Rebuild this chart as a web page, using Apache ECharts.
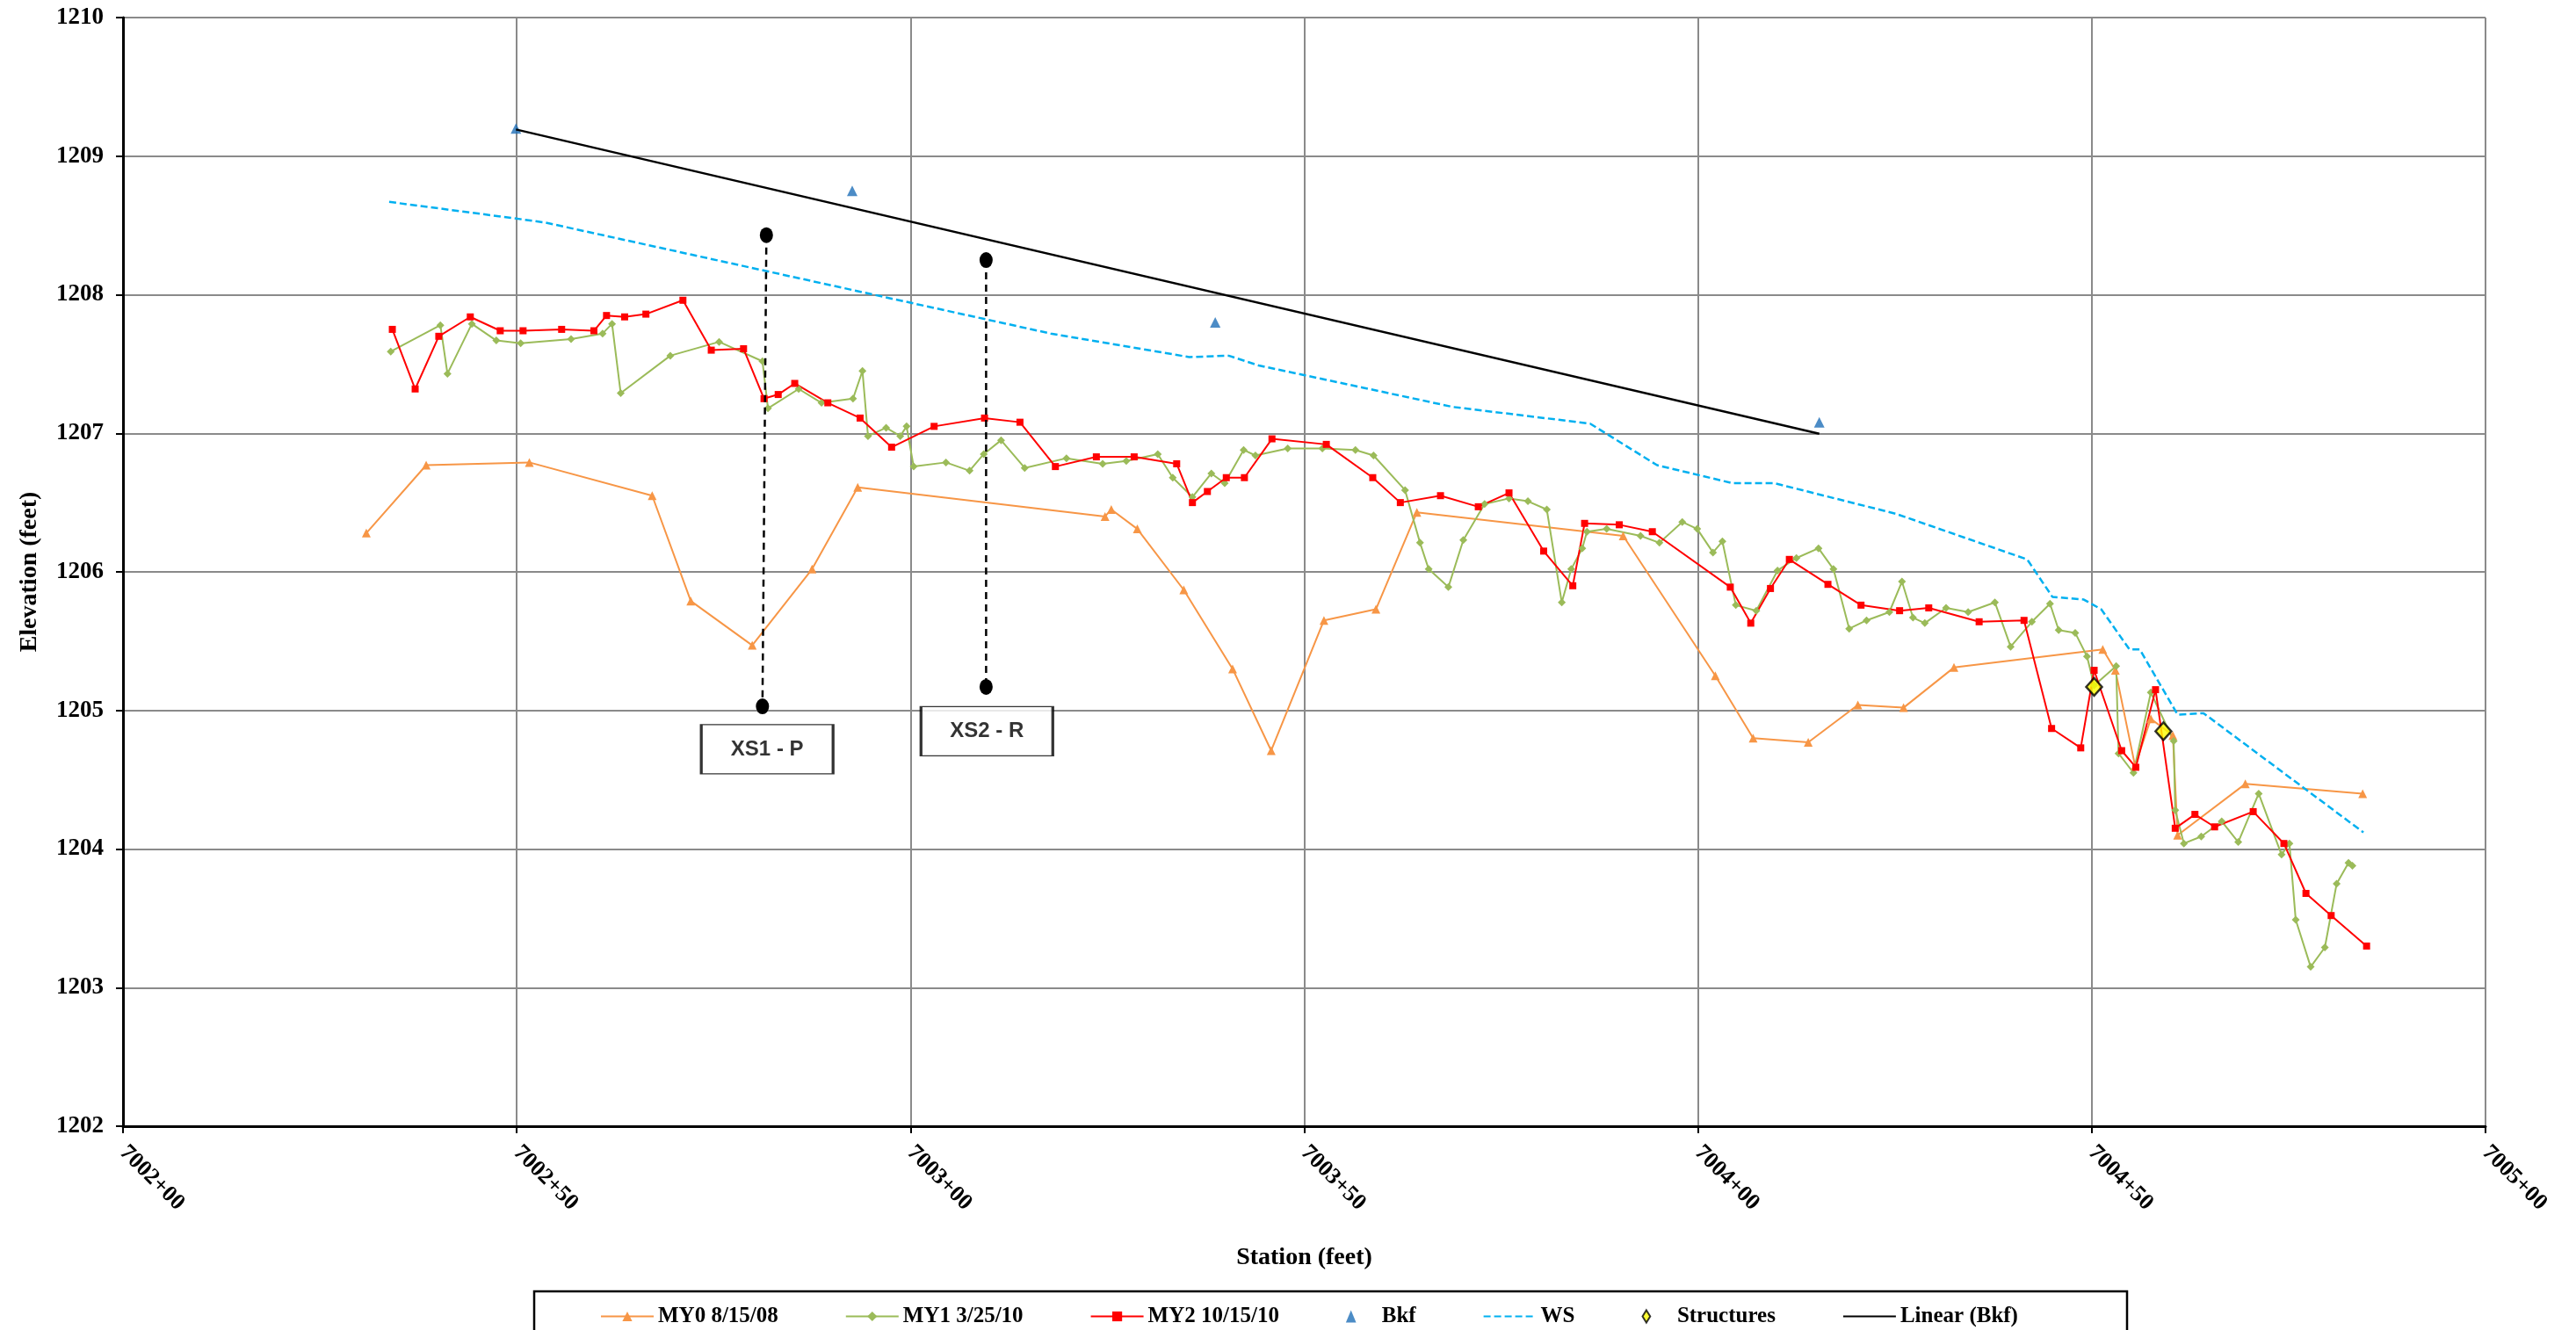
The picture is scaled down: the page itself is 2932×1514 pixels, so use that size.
<!DOCTYPE html>
<html>
<head>
<meta charset="utf-8">
<title>Profile</title>
<script src="https://cdn.jsdelivr.net/npm/echarts@6/dist/echarts.min.js"></script>
<style>
  html, body { margin: 0; padding: 0; background: #fff; }
  #profile { width: 2932px; height: 1514px; }
</style>
</head>
<body>
<div id="profile"></div>
<script>
// station = stationBase + x (feet), e.g. 234.2 -> 7002+34.2
const stationBase = 700000

// MY0 8/15/08
const my0 = [
  [230.9, 1206.28], [238.5, 1206.77], [251.6, 1206.79], [267.2, 1206.55], [272.1, 1205.79],
  [279.9, 1205.47], [287.5, 1206.02], [293.3, 1206.61], [324.7, 1206.40], [325.5, 1206.45],
  [328.8, 1206.31], [334.7, 1205.87], [340.9, 1205.30], [345.8, 1204.71], [352.5, 1205.65],
  [359.1, 1205.73], [364.3, 1206.43], [390.5, 1206.26], [402.2, 1205.25], [407.0, 1204.80],
  [414.0, 1204.77], [420.3, 1205.04], [426.1, 1205.02], [432.5, 1205.31], [451.4, 1205.44],
  [453.0, 1205.29], [455.5, 1204.60], [457.5, 1204.94], [460.3, 1204.82], [460.9, 1204.10],
  [469.5, 1204.47], [484.4, 1204.40]
]

// MY1 3/25/10
const my1 = [
  [234.0, 1207.59], [240.3, 1207.78], [241.2, 1207.43], [244.3, 1207.79], [247.4, 1207.67],
  [250.5, 1207.65], [256.9, 1207.68], [260.9, 1207.72], [262.1, 1207.79], [263.2, 1207.29],
  [269.5, 1207.56], [275.7, 1207.66], [281.2, 1207.52], [281.9, 1207.18], [285.8, 1207.32],
  [288.7, 1207.22], [292.7, 1207.25], [293.9, 1207.45], [294.6, 1206.98], [296.9, 1207.04],
  [298.7, 1206.98], [299.5, 1207.05], [300.4, 1206.76], [304.5, 1206.79], [307.5, 1206.73],
  [309.3, 1206.85], [311.5, 1206.95], [314.5, 1206.75], [319.8, 1206.82], [324.4, 1206.78],
  [327.4, 1206.80], [331.4, 1206.85], [333.3, 1206.68], [335.8, 1206.54], [338.2, 1206.71],
  [339.9, 1206.64], [342.3, 1206.88], [343.8, 1206.84], [347.9, 1206.89], [352.3, 1206.89],
  [356.5, 1206.88], [358.8, 1206.84], [362.8, 1206.59], [364.7, 1206.21], [365.8, 1206.02],
  [368.3, 1205.89], [370.2, 1206.23], [372.9, 1206.49], [376.0, 1206.53], [378.4, 1206.51],
  [380.8, 1206.45], [382.7, 1205.78], [383.9, 1206.02], [385.3, 1206.17], [385.9, 1206.29],
  [388.4, 1206.31], [392.7, 1206.26], [395.1, 1206.21], [398.0, 1206.36], [399.9, 1206.31],
  [401.9, 1206.14], [403.1, 1206.22], [404.8, 1205.76], [407.4, 1205.72], [410.1, 1206.01],
  [412.5, 1206.10], [415.3, 1206.17], [417.2, 1206.02], [419.2, 1205.59], [421.4, 1205.65],
  [424.3, 1205.71], [425.9, 1205.93], [427.3, 1205.67], [428.8, 1205.63], [431.5, 1205.74],
  [434.3, 1205.71], [437.7, 1205.78], [439.7, 1205.46], [442.4, 1205.64], [444.7, 1205.77],
  [445.8, 1205.58], [447.9, 1205.56], [449.4, 1205.39], [450.3, 1205.18], [453.1, 1205.32],
  [453.4, 1204.69], [455.3, 1204.55], [457.5, 1205.13], [460.4, 1204.78], [460.6, 1204.28],
  [461.7, 1204.04], [463.9, 1204.09], [466.5, 1204.20], [468.6, 1204.05], [471.2, 1204.40],
  [474.1, 1203.96], [475.1, 1204.04], [475.9, 1203.49], [477.8, 1203.15], [479.6, 1203.29],
  [481.1, 1203.75], [482.6, 1203.90], [483.1, 1203.88]
]

// MY2 10/15/10
const my2 = [
  [234.2, 1207.75], [237.1, 1207.32], [240.1, 1207.70], [244.1, 1207.84], [247.9, 1207.74],
  [250.8, 1207.74], [255.7, 1207.75], [259.8, 1207.74], [261.4, 1207.85], [263.7, 1207.84],
  [266.4, 1207.86], [271.1, 1207.96], [274.7, 1207.60], [278.8, 1207.61], [281.4, 1207.25],
  [283.2, 1207.28], [285.3, 1207.36], [289.5, 1207.22], [293.6, 1207.11], [297.6, 1206.90],
  [303.0, 1207.05], [309.4, 1207.11], [313.9, 1207.08], [318.4, 1206.76], [323.6, 1206.83],
  [328.4, 1206.83], [333.8, 1206.78], [335.8, 1206.50], [337.7, 1206.58], [340.1, 1206.68],
  [342.4, 1206.68], [345.9, 1206.96], [352.8, 1206.92], [358.7, 1206.68], [362.2, 1206.50],
  [367.3, 1206.55], [372.1, 1206.47], [376.0, 1206.57], [380.4, 1206.15], [384.1, 1205.90],
  [385.6, 1206.35], [390.0, 1206.34], [394.2, 1206.29], [404.1, 1205.89], [406.7, 1205.63],
  [409.2, 1205.88], [411.6, 1206.09], [416.5, 1205.91], [420.7, 1205.76], [425.6, 1205.72],
  [429.3, 1205.74], [435.7, 1205.64], [441.4, 1205.65], [444.9, 1204.87], [448.6, 1204.73],
  [450.3, 1205.29], [453.8, 1204.71], [455.6, 1204.59], [458.1, 1205.15], [460.6, 1204.15],
  [463.1, 1204.25], [465.6, 1204.16], [470.5, 1204.27], [474.4, 1204.04], [477.2, 1203.68],
  [480.4, 1203.52], [484.9, 1203.30]
]

// bankfull points
const bkfStation = [249.9, 292.6, 338.7, 415.4]
const bkfElev = [1209.20, 1208.75, 1207.80, 1207.08]

// water surface
const ws = [
  [233.8, 1208.67], [249.9, 1208.55], [253.7, 1208.52], [317.8, 1207.72], [335.4, 1207.55],
  [340.4, 1207.56], [344.2, 1207.49], [357.4, 1207.33], [368.9, 1207.19], [386.3, 1207.07],
  [394.8, 1206.77], [404.4, 1206.64], [409.7, 1206.64], [425.1, 1206.42], [441.8, 1206.09],
  [445.0, 1205.82], [449.0, 1205.80], [451.2, 1205.73], [454.8, 1205.44], [456.1, 1205.44],
  [460.9, 1204.97], [464.2, 1204.98], [484.5, 1204.12]
]

const structures = [[450.3, 1205.17], [459.1, 1204.85]]

// cross section markers
const xsNames = ['XS1 - P', 'XS2 - R']
const xsTop = [[281.7, 1208.43], [309.6, 1208.25]]
const xsBottom = [[281.2, 1205.03], [309.6, 1205.17]]
const xsBox = [[281.8, 1204.72], [309.7, 1204.85]]

// linear trend on Bkf
function trend(xs, ys) {
  const n = xs.length
  const mx = xs.reduce((a, b) => a + b, 0) / n
  const my = ys.reduce((a, b) => a + b, 0) / n
  let sxy = 0
  let sxx = 0
  for (let i = 0; i < n; i++) {
    sxy += (xs[i] - mx) * (ys[i] - my)
    sxx += (xs[i] - mx) * (xs[i] - mx)
  }
  const k = sxy / sxx
  const x0 = Math.min(...xs)
  const x1 = Math.max(...xs)
  return [[x0, my + k * (x0 - mx)], [x1, my + k * (x1 - mx)]]
}

const serif = 'Liberation Serif'
const chart = echarts.init(document.getElementById('profile'))

const xsSeries = xsNames.map((n, i) => ({
  name: n,
  type: 'line',
  data: [xsTop[i], xsBottom[i]],
  symbol: 'circle',
  symbolSize: [15, 18],
  itemStyle: { color: '#000' },
  lineStyle: { color: '#000', width: 2.5, type: [8, 6] },
  z: 5
}))

chart.setOption({
  animation: false,
  backgroundColor: '#fff',
  grid: { left: 140, right: 103, top: 20, bottom: 232, containLabel: false, outerBoundsMode: 'none' },
  xAxis: {
    type: 'value',
    min: 200,
    max: 500,
    interval: 50,
    name: 'Station (feet)',
    nameLocation: 'middle',
    nameGap: 136,
    nameTextStyle: { fontFamily: serif, fontWeight: 'bold', fontSize: 28, color: '#000' },
    axisLine: { show: true, onZero: false, lineStyle: { color: '#000', width: 3 } },
    axisTick: { show: true, length: 8, lineStyle: { color: '#000', width: 2 } },
    axisLabel: {
      rotate: -45,
      margin: 26,
      fontFamily: serif,
      fontWeight: 'bold',
      fontSize: 26,
      color: '#000',
      formatter: v => {
        const s = stationBase + v
        return Math.floor(s / 100) + '+' + String(s % 100).padStart(2, '0')
      }
    },
    splitLine: { show: true, lineStyle: { color: '#8a8a8a', width: 2 } }
  },
  yAxis: {
    type: 'value',
    min: 1202,
    max: 1210,
    interval: 1,
    name: 'Elevation (feet)',
    nameLocation: 'middle',
    nameGap: 92,
    nameRotate: 90,
    nameTextStyle: { fontFamily: serif, fontWeight: 'bold', fontSize: 28, color: '#000' },
    axisLine: { show: true, lineStyle: { color: '#000', width: 3 } },
    axisTick: { show: true, length: 8, lineStyle: { color: '#000', width: 2 } },
    axisLabel: {
      margin: 22,
      fontFamily: serif,
      fontWeight: 'bold',
      fontSize: 27,
      color: '#000',
      formatter: v => String(v)
    },
    splitLine: { show: true, lineStyle: { color: '#8a8a8a', width: 2 } }
  },
  legend: {
    data: [
      'MY0 8/15/08',
      'MY1 3/25/10',
      'MY2 10/15/10',
      { name: 'Bkf', icon: 'path://M5,0 L10,12 L0,12 Z' },
      { name: 'WS', itemStyle: { opacity: 0 } },
      { name: 'Structures', icon: 'path://M5,0 L10,8 L5,16 L0,8 Z' },
      { name: 'Linear (Bkf)', itemStyle: { opacity: 0 } }
    ],
    left: 678,
    top: 1481,
    itemWidth: 60,
    itemHeight: 14,
    itemGap: 76,
    symbolKeepAspect: true,
    textStyle: { fontFamily: serif, fontWeight: 'bold', fontSize: 25, color: '#000' }
  },
  graphic: [
    {
      type: 'rect',
      shape: { x: 608, y: 1470, width: 1813, height: 70 },
      style: { fill: 'none', stroke: '#000', lineWidth: 2.5 },
      silent: true
    }
  ],
  series: [
    {
      name: 'MY0 8/15/08',
      type: 'line',
      data: my0,
      symbol: 'triangle',
      symbolSize: 10,
      itemStyle: { color: '#F79646' },
      lineStyle: { color: '#F79646', width: 2 }
    },
    {
      name: 'MY1 3/25/10',
      type: 'line',
      data: my1,
      symbol: 'diamond',
      symbolSize: 9,
      itemStyle: { color: '#9BBB59' },
      lineStyle: { color: '#9BBB59', width: 2 }
    },
    {
      name: 'MY2 10/15/10',
      type: 'line',
      data: my2,
      symbol: 'rect',
      symbolSize: 8,
      itemStyle: { color: '#FF0000' },
      lineStyle: { color: '#FF0000', width: 2 }
    },
    {
      name: 'Bkf',
      type: 'scatter',
      data: bkfStation.map((s, i) => [s, bkfElev[i]]),
      symbol: 'triangle',
      symbolSize: 12,
      itemStyle: { color: '#1F6FB8' }
    },
    {
      name: 'WS',
      type: 'line',
      data: ws,
      symbol: 'none',
      itemStyle: { color: '#00B0F0' },
      lineStyle: { color: '#00B0F0', width: 2.5, type: [8, 4] }
    },
    {
      name: 'Structures',
      type: 'scatter',
      data: structures,
      symbol: 'diamond',
      symbolSize: [18, 20],
      itemStyle: { color: '#FFFF00', borderColor: '#000', borderWidth: 2.5 },
      z: 6
    },
    {
      name: 'Linear (Bkf)',
      type: 'line',
      data: trend(bkfStation, bkfElev),
      symbol: 'none',
      itemStyle: { color: '#000' },
      lineStyle: { color: '#000', width: 2.5 }
    },
    ...xsSeries,
    {
      name: 'xs labels',
      type: 'scatter',
      data: xsBox.map((p, i) => ({ name: xsNames[i], value: p })),
      symbol: 'rect',
      symbolSize: [150, 56],
      itemStyle: { color: '#fff', borderColor: '#000', borderWidth: 2 },
      label: {
        show: true,
        position: 'inside',
        formatter: '{b}',
        fontFamily: 'Liberation Sans',
        fontWeight: 'bold',
        fontSize: 24,
        color: '#000'
      },
      z: 6
    }
  ]
})
</script>
</body>
</html>
